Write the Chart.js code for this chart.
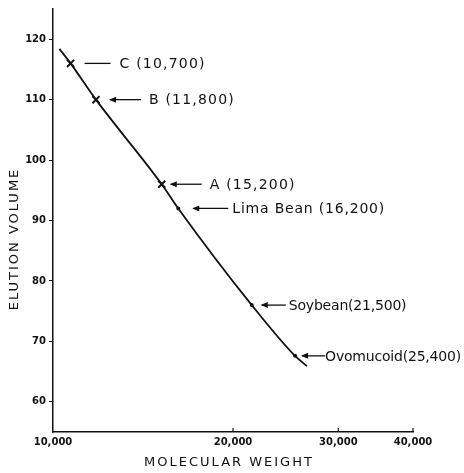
<!DOCTYPE html>
<html>
<head>
<meta charset="utf-8">
<script src="https://cdn.jsdelivr.net/npm/chart.js@4/dist/chart.umd.min.js"></script>
<style>
  html, body { margin: 0; padding: 0; background: #fff; }
</style>
</head>
<body>
<canvas id="chart" width="464" height="473"></canvas>
<script>
// calibration proteins
const pointLabels = ['C (10,700)', 'B (11,800)', 'A (15,200)', 'Lima Bean (16,200)', 'Soybean(21,500)', 'Ovomucoid(25,400)'];
const molecularWeights = [10700, 11800, 15200, 16200, 21500, 25400];
const elutionVolumes = [116, 110, 96, 92, 76, 67.6];
const markerKinds = ['cross', 'cross', 'cross', 'dot', 'dot', 'dot'];

// hand drawn calibration curve
const curveWeights = [10250, 10700, 11800, 15200, 16200, 21500, 25400, 26600];
const curveVolumes = [118.4, 116, 110, 96, 92, 76, 67.6, 65.9];

const xTicks = [10000, 20000, 30000, 40000];
const xTickLabels = ['10,000', '20,000', '30,000', '40,000'];
const yTicks = [60, 70, 80, 90, 100, 110, 120];

// [arrow start, arrow end, text start] in px right of the point
const labelOffsets = [[14, 40, 49], [14, 45, 53], [9, 40, 48], [15, 50, 54], [10, 34, 37], [7, 30, 30]];
const labelSpacing = [1.2, 1.2, 1.2, 0.8, -0.2, -0.2];
const arrowHeads = [false, true, true, true, true, true];

const ink = '#111';
const FONT = '"DejaVu Sans", sans-serif';

const pick = (kind) => molecularWeights
  .map((mw, i) => ({ x: mw, y: elutionVolumes[i], k: markerKinds[i] }))
  .filter(p => p.k === kind);

const annotate = {
  id: 'annotate',
  afterDatasetsDraw(chart) {
    const { ctx, chartArea, scales: { x, y } } = chart;
    ctx.save();
    ctx.strokeStyle = ink;
    ctx.fillStyle = ink;
    ctx.lineWidth = 1.3;
    ctx.font = '14px ' + FONT;
    ctx.textBaseline = 'middle';
    molecularWeights.forEach((mw, i) => {
      const px = x.getPixelForValue(mw);
      const py = y.getPixelForValue(elutionVolumes[i]);
      const [a, b, t] = labelOffsets[i];
      ctx.beginPath();
      ctx.moveTo(px + a, py);
      ctx.lineTo(px + b, py);
      ctx.stroke();
      if (arrowHeads[i]) {
        ctx.beginPath();
        ctx.moveTo(px + a - 1, py);
        ctx.lineTo(px + a + 6, py - 3);
        ctx.lineTo(px + a + 6, py + 3);
        ctx.closePath();
        ctx.fill();
      }
      ctx.letterSpacing = labelSpacing[i] + 'px';
      ctx.fillText(pointLabels[i], px + t, py + 1);
    });

    // x ticks point up into the plot
    ctx.lineWidth = 1.2;
    xTicks.slice(1).forEach(v => {
      const px = x.getPixelForValue(v);
      ctx.beginPath();
      ctx.moveTo(px, chartArea.bottom);
      ctx.lineTo(px, chartArea.bottom - 4);
      ctx.stroke();
    });

    // axis titles
    ctx.font = '13px ' + FONT;
    ctx.letterSpacing = '2px';
    ctx.textAlign = 'center';
    ctx.fillText('MOLECULAR WEIGHT', (chartArea.left + chartArea.right) / 2 - 4, 463);
    ctx.translate(15, 239);
    ctx.rotate(-Math.PI / 2);
    ctx.fillText('ELUTION VOLUME', 0, 0);
    ctx.restore();
  }
};

new Chart(document.getElementById('chart'), {
  type: 'scatter',
  data: {
    datasets: [
      {
        type: 'line',
        data: curveWeights.map((w, i) => ({ x: w, y: curveVolumes[i] })),
        borderColor: ink,
        borderWidth: 1.8,
        pointRadius: 0,
        cubicInterpolationMode: 'monotone',
        fill: false
      },
      {
        data: pick('cross'),
        pointStyle: 'crossRot',
        pointRadius: 5,
        borderWidth: 2,
        borderColor: ink
      },
      {
        data: pick('dot'),
        pointStyle: 'circle',
        pointRadius: 2,
        borderWidth: 0,
        backgroundColor: ink
      }
    ]
  },
  options: {
    responsive: false,
    devicePixelRatio: 1,
    animation: false,
    layout: { padding: { top: 8, right: 51, left: 0, bottom: 0 } },
    plugins: { legend: { display: false }, tooltip: { enabled: false } },
    scales: {
      x: {
        type: 'logarithmic',
        min: 10000,
        max: 40000,
        afterBuildTicks: (s) => { s.ticks = xTicks.map(v => ({ value: v })); },
        afterFit: (s) => { s.height = 41; },
        grid: { drawOnChartArea: false, drawTicks: false },
        border: { color: ink, width: 1.5 },
        ticks: {
          autoSkip: false,
          maxRotation: 0,
          padding: 4,
          color: ink,
          font: { family: FONT, size: 10, weight: 'bold' },
          callback: (v) => xTickLabels[xTicks.indexOf(v)]
        }
      },
      y: {
        min: 55,
        max: 125,
        afterBuildTicks: (s) => { s.ticks = yTicks.map(v => ({ value: v })); },
        afterFit: (s) => { s.width = 53; },
        grid: { drawOnChartArea: false, tickLength: 4, color: ink },
        border: { color: ink, width: 1.5 },
        ticks: {
          padding: 3,
          color: ink,
          font: { family: FONT, size: 10, weight: 'bold' }
        }
      }
    }
  },
  plugins: [annotate]
});
</script>
</body>
</html>
